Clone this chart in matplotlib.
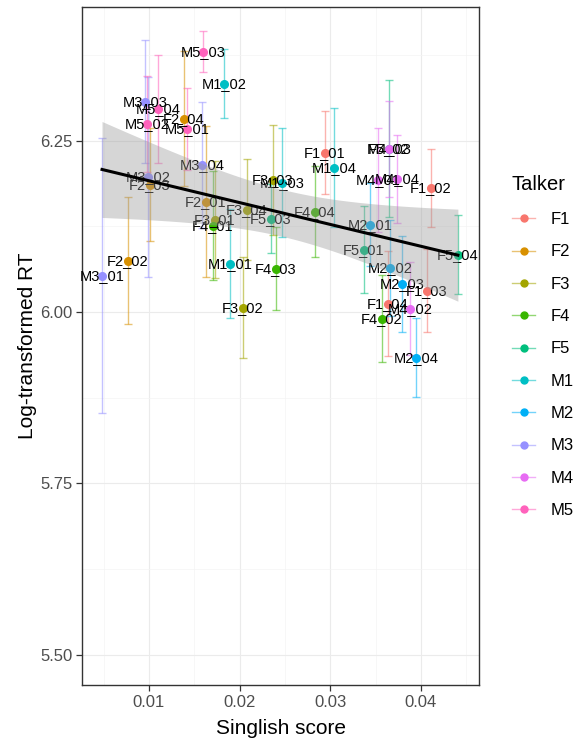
import numpy as np
import matplotlib
matplotlib.use("Agg")
import matplotlib.pyplot as plt
from matplotlib.lines import Line2D
from matplotlib.ticker import MultipleLocator

plt.rcParams["font.family"] = ["Liberation Sans", "DejaVu Sans"]

# ---------------------------------------------------------------------------
# Dados
# ---------------------------------------------------------------------------

talkers = ["F1", "F2", "F3", "F4", "F5", "M1", "M2", "M3", "M4", "M5"]
cores = ["#F8766D", "#D89000", "#A3A500", "#39B600", "#00BF7D",
         "#00BFC4", "#00B0F6", "#9590FF", "#E76BF3", "#FF62BC"]

item_talker = ["F1"] * 4 + ["F2"] * 4 + ["F3"] * 4 + ["F4"] * 4 + ["F5"] * 4 + \
              ["M1"] * 4 + ["M2"] * 4 + ["M3"] * 4 + ["M4"] * 4 + ["M5"] * 4
item_frase = ["01", "02", "03", "04"] * 10

singlish = [0.02940, 0.04109, 0.04065, 0.03635,
            0.01628, 0.00768, 0.01011, 0.01386,
            0.01728, 0.02036, 0.02367, 0.02080,
            0.01706, 0.03569, 0.02400, 0.02830,
            0.03370, 0.03646, 0.02345, 0.04407,
            0.01893, 0.01827, 0.02466, 0.03040,
            0.03437, 0.03657, 0.03789, 0.03944,
            0.00482, 0.00989, 0.00956, 0.01584,
            0.03525, 0.03878, 0.03646, 0.03734,
            0.01419, 0.00978, 0.01595, 0.01099]

log_rt = [6.2325, 6.1815, 6.0313, 6.0124,
          6.1611, 6.0751, 6.1859, 6.2821,
          6.1348, 6.0066, 6.1931, 6.1494,
          6.1261, 5.9905, 6.0634, 6.1465,
          6.0911, 6.2383, 6.1363, 6.0838,
          6.0707, 6.3331, 6.1888, 6.2106,
          6.1276, 6.0649, 6.0415, 5.9337,
          6.0532, 6.1975, 6.3069, 6.2150,
          6.1931, 6.0051, 6.2383, 6.1946,
          6.2675, 6.2748, 6.3797, 6.2966]

erro_rt = [0.061, 0.057, 0.060, 0.077,
           0.110, 0.093, 0.082, 0.098,
           0.085, 0.073, 0.080, 0.074,
           0.080, 0.063, 0.060, 0.066,
           0.064, 0.100, 0.050, 0.058,
           0.080, 0.050, 0.080, 0.087,
           0.060, 0.070, 0.070, 0.058,
           0.201, 0.146, 0.090, 0.092,
           0.076, 0.068, 0.070, 0.064,
           0.060, 0.070, 0.030, 0.079]

# reta do geom_smooth (valor ajustado no menor e no maior x)
reta_inicio = 6.208
reta_fim = 6.083
# meia largura da faixa cinza no menor x
faixa_inicio = 0.070

# ---------------------------------------------------------------------------
# Grafico
# ---------------------------------------------------------------------------

x = np.array(singlish)
y = np.array(log_rt)
cor_de = dict(zip(talkers, cores))

fig = plt.figure(figsize=(5.85, 7.4), dpi=100)
ax = fig.add_axes([82 / 585, 1 - 685 / 740, 397 / 585, 678 / 740])

for i in range(len(x)):
    c = cor_de[item_talker[i]]
    ax.errorbar(x[i], y[i], yerr=erro_rt[i], fmt="none", ecolor=c, alpha=0.55,
                elinewidth=1.0, capsize=3, capthick=1.0, zorder=2)
    ax.plot(x[i], y[i], "o", color=c, markersize=5.5, zorder=3)
    ax.text(x[i], y[i], f"{item_talker[i]}_{item_frase[i]}", fontsize=10.5,
            ha="center", va="center", color="black", zorder=4)

# reta + faixa de confianca (formato do IC de um lm)
n = len(x)
b1 = (reta_fim - reta_inicio) / (x.max() - x.min())
b0 = reta_inicio - b1 * x.min()
xs = np.linspace(x.min(), x.max(), 80)
ys = b0 + b1 * xs
forma = np.sqrt(1 / n + (xs - x.mean()) ** 2 / np.sum((x - x.mean()) ** 2))
meia = faixa_inicio * forma / forma[0]
ax.fill_between(xs, ys - meia, ys + meia, color="#999999", alpha=0.4,
                linewidth=0, zorder=5)
ax.plot(xs, ys, color="black", linewidth=2.2, zorder=6)

ax.set_xlim(0.00261, 0.0464)
ax.set_ylim(5.456, 6.445)
ax.xaxis.set_minor_locator(MultipleLocator(0.005))
ax.yaxis.set_minor_locator(MultipleLocator(0.125))
ax.set_xticks([0.01, 0.02, 0.03, 0.04], ["0.01", "0.02", "0.03", "0.04"])
ax.set_yticks([5.50, 5.75, 6.00, 6.25], ["5.50", "5.75", "6.00", "6.25"])

ax.grid(which="major", color="#EBEBEB", linewidth=0.8, zorder=0)
ax.grid(which="minor", color="#F4F4F4", linewidth=0.5, zorder=0)
ax.set_axisbelow(True)
for sp in ax.spines.values():
    sp.set_color("#333333")
    sp.set_linewidth(1.0)
ax.tick_params(which="major", length=4, width=0.9, color="#333333",
               labelsize=12, labelcolor="#4D4D4D", pad=3)
ax.tick_params(which="minor", length=0)

ax.set_xlabel("Singlish score", fontsize=15, labelpad=7)
ax.set_ylabel("Log-transformed RT", fontsize=15, labelpad=2)

# legenda
handles = []
for c in cores:
    linha = Line2D([], [], color=c, alpha=0.55, linewidth=1.0)
    ponto = Line2D([], [], color=c, marker="o", markersize=5, linestyle="none")
    handles.append((linha, ponto))
leg = fig.legend(handles, talkers, loc="upper left",
                 bbox_to_anchor=(497 / 585, 1 - 160 / 740), frameon=False,
                 title="Talker", title_fontsize=14.5, fontsize=12,
                 handlelength=1.4, labelspacing=1.04, handletextpad=0.9,
                 alignment="left")
leg._legend_box.sep = 13

fig.savefig("out.png", dpi=100)
